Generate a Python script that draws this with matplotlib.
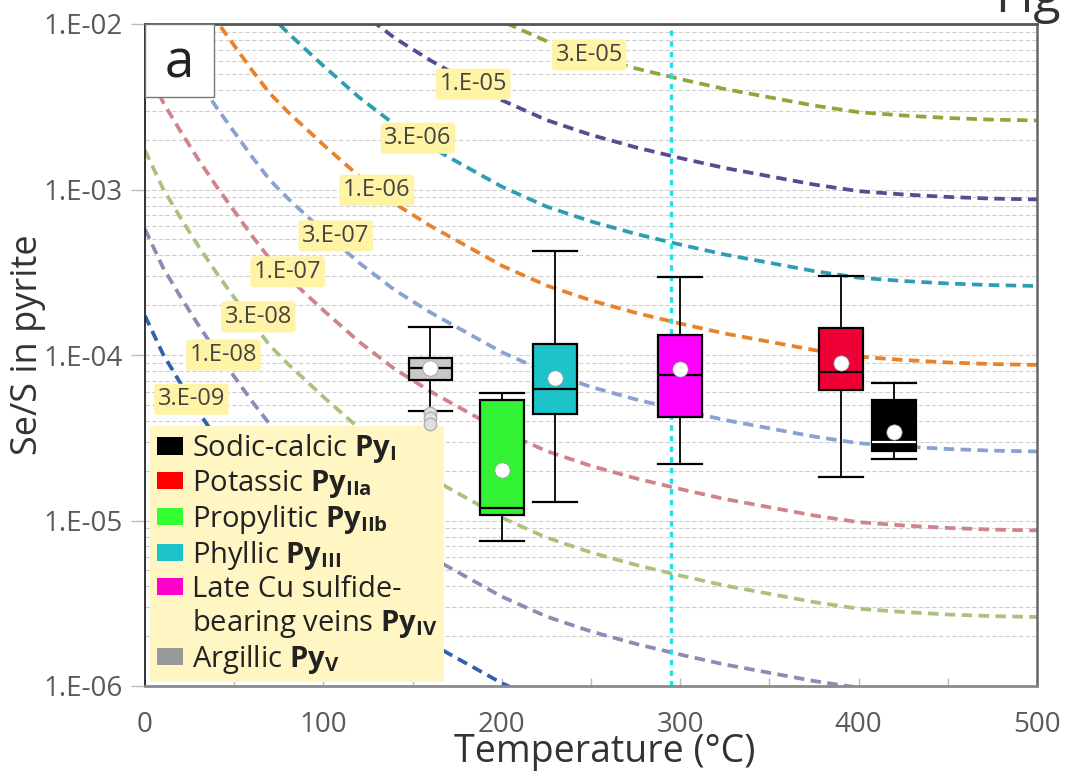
import numpy as np
import matplotlib
matplotlib.use('Agg')
import matplotlib.pyplot as plt
from matplotlib.patches import Patch, Rectangle
from matplotlib.ticker import FixedLocator, FixedFormatter, MultipleLocator, NullFormatter, LogLocator

plt.rcParams['font.family'] = ['Open Sans', 'DejaVu Sans']
plt.rcParams['mathtext.fontset'] = 'custom'
plt.rcParams['mathtext.rm'] = 'Open Sans'
plt.rcParams['mathtext.bf'] = 'Open Sans:bold'
plt.rcParams['mathtext.it'] = 'Open Sans:italic'

# ---------------- data ----------------
# isopleth constants (curve labels) and colours
curve_consts = [3e-9, 1e-8, 3e-8, 1e-7, 3e-7, 1e-6, 3e-6, 1e-5, 3e-5]
curve_labels = ['3.E-09', '1.E-08', '3.E-08', '1.E-07', '3.E-07',
                '1.E-06', '3.E-06', '1.E-05', '3.E-05']
curve_colors = ['#2f62a8', '#8f8ab5', '#a9c27e', '#d0838a', '#88a2d2',
                '#e8832c', '#2e9daf', '#5b4a90', '#8aa93a']
# shared shape of the isopleths: log10(Se/S) - log10(constant)
temp_grid = [0, 10, 20, 30, 40, 50, 60, 70, 80, 90, 100, 120, 140, 160, 180,
             200, 225, 250, 275, 300, 325, 350, 375, 400, 425, 450, 475, 500]
log_offset = [4.76, 4.53, 4.35, 4.18, 4.02, 3.87, 3.72, 3.58, 3.47, 3.37, 3.27,
              3.08, 2.915, 2.78, 2.66, 2.54, 2.42, 2.33, 2.255, 2.19, 2.13,
              2.08, 2.03, 1.99, 1.97, 1.955, 1.945, 1.94]
# positions of the curve labels (T, Se/S)
label_T = [26, 44, 63.5, 80, 107, 130, 153, 184, 249]
label_y = [5.4e-5, 1.0e-4, 1.7e-4, 3.18e-4, 5.24e-4, 9.9e-4, 2.04e-3, 4.33e-3, 6.5e-3]

vline_T = 295

# box plots
box_names = ['Argillic', 'Propylitic', 'Phyllic', 'Late Cu', 'Potassic', 'Sodic-calcic']
box_T = [160, 200, 230, 300, 390, 420]
box_whislo = [4.6e-5, 7.55e-6, 1.3e-5, 2.18e-5, 1.82e-5, 2.34e-5]
box_q1 = [7.1e-5, 1.08e-5, 4.4e-5, 4.24e-5, 6.15e-5, 2.64e-5]
box_med = [8.3e-5, 1.19e-5, 6.2e-5, 7.6e-5, 7.86e-5, 2.99e-5]
box_q3 = [9.6e-5, 5.35e-5, 1.16e-4, 1.32e-4, 1.46e-4, 5.35e-5]
box_whishi = [1.47e-4, 5.87e-5, 4.26e-4, 2.97e-4, 3.0e-4, 6.8e-5]
box_mean = [8.3e-5, 2.02e-5, 7.3e-5, 8.2e-5, 9.0e-5, 3.44e-5]
box_fliers = [[4.45e-5, 4.15e-5, 3.85e-5], [], [], [], [], []]
box_colors = ['#c8c8c8', '#33f233', '#1cc4ca', '#ff00ff', '#ee0036', '#000000']

legend_labels = ['Sodic-calcic $\\mathbf{Py}_{\\mathbf{I}}$',
                 'Potassic $\\mathbf{Py}_{\\mathbf{IIa}}$',
                 'Propylitic $\\mathbf{Py}_{\\mathbf{IIb}}$',
                 'Phyllic $\\mathbf{Py}_{\\mathbf{III}}$',
                 'Late Cu sulfide-',
                 'bearing veins $\\mathbf{Py}_{\\mathbf{IV}}$',
                 'Argillic $\\mathbf{Py}_{\\mathbf{V}}$']
legend_colors = ['#000000', '#ff0000', '#33ff33', '#1cc4ca', '#ff00cc', None, '#999999']

yticks = [1e-6, 1e-5, 1e-4, 1e-3, 1e-2]
ytick_labels = ['1.E-06', '1.E-05', '1.E-04', '1.E-03', '1.E-02']
xticks = [0, 100, 200, 300, 400, 500]

# ---------------- figure ----------------
fig = plt.figure(figsize=(10.69, 7.72), dpi=100)
ax = fig.add_axes([145/1069, 1-686/772, 892/1069, 662/772])
ax.set_yscale('log')
ax.set_xlim(0, 500)
ax.set_ylim(1e-6, 1e-2)

# grid
ax.yaxis.set_minor_locator(LogLocator(base=10, subs=np.arange(2, 10)))
ax.yaxis.set_minor_formatter(NullFormatter())
ax.grid(True, which='both', axis='y', color='#cfcfcf', linestyle=(0, (4, 2)), lw=0.8, zorder=0)
ax.set_axisbelow(True)

# isopleths
T = np.array(temp_grid, dtype=float)
off = np.array(log_offset)
for c, col in zip(curve_consts, curve_colors):
    ax.plot(T, c * 10**off, color=col, lw=2.7, dashes=(2.8, 1.7), zorder=2)

# vertical cyan line
ax.axvline(vline_T, color='#14e4ee', lw=2.4, dashes=(1.6, 1.6), zorder=2.5)

# curve labels
for t, yv, lab in zip(label_T, label_y, curve_labels):
    ax.text(t, yv, lab, fontsize=17, color='#444444', ha='center', va='center', zorder=4,
            bbox=dict(boxstyle='round,pad=0.15', fc='#fff4a6', ec='none'))

# box plots
stats = []
for i in range(len(box_T)):
    stats.append(dict(med=box_med[i], q1=box_q1[i], q3=box_q3[i],
                      whislo=box_whislo[i], whishi=box_whishi[i],
                      mean=box_mean[i], fliers=box_fliers[i]))
bp = ax.bxp(stats, positions=box_T, widths=24.5, capwidths=24.5, patch_artist=True,
            showmeans=True, manage_ticks=False, zorder=5,
            boxprops=dict(edgecolor='black', lw=1.6),
            whiskerprops=dict(color='black', lw=1.3),
            capprops=dict(color='black', lw=1.6),
            medianprops=dict(color='black', lw=1.6),
            meanprops=dict(marker='o', markerfacecolor='white', markeredgecolor='#999999',
                           markeredgewidth=0.5, markersize=11),
            flierprops=dict(marker='o', markerfacecolor='#e0e0e0', markeredgecolor='#b0b0b0',
                            markersize=9))
for patch, col in zip(bp['boxes'], box_colors):
    patch.set_facecolor(col)
bp['medians'][-1].set_color('white')
for fl in bp['fliers']:
    fl.set_zorder(9)

# axes styling
ax.yaxis.set_major_locator(FixedLocator(yticks))
ax.yaxis.set_major_formatter(FixedFormatter(ytick_labels))
ax.xaxis.set_major_locator(FixedLocator(xticks))
ax.xaxis.set_minor_locator(MultipleLocator(50))
ax.tick_params(axis='y', which='major', direction='out', length=10, width=1, color='#bbbbbb',
               labelsize=20, labelcolor='#5a5a5a', pad=6)
ax.tick_params(axis='y', which='minor', length=0)
ax.tick_params(axis='x', which='both', direction='in', length=6, width=1, color='#bbbbbb',
               labelsize=20, labelcolor='#5a5a5a', pad=18)
ax.spines['left'].set_color('#222222'); ax.spines['left'].set_linewidth(1.3)
ax.spines['bottom'].set_color('#8a8a8a'); ax.spines['bottom'].set_linewidth(2)
ax.spines['top'].set_color('#555555'); ax.spines['top'].set_linewidth(2)
ax.spines['right'].set_color('#666666'); ax.spines['right'].set_linewidth(1.8)

# panel label
ax.add_patch(Rectangle((0, 0.89), 0.077, 0.11, transform=ax.transAxes, fc='white',
                       ec='#777777', lw=1, zorder=6))
ax.text(0.0385, 0.94, 'a', transform=ax.transAxes, fontsize=38, color='#222222',
        ha='center', va='center', zorder=7)

# legend
handles = []
for col in legend_colors:
    if col is None:
        handles.append(Patch(facecolor='none', edgecolor='none'))
    else:
        handles.append(Patch(facecolor=col, edgecolor='none'))
leg = ax.legend(handles, legend_labels, loc='lower left', bbox_to_anchor=(0.006, 0.006),
                borderaxespad=0, fontsize=21, frameon=True, fancybox=False,
                facecolor='#fff6c4', edgecolor='none', framealpha=1,
                handlelength=0.9, handleheight=0.55, handletextpad=0.3,
                labelspacing=0.1, borderpad=0.22)
for t in leg.get_texts():
    t.set_color('#222222')
leg.set_zorder(8)

# axis labels
fig.text(28/1069, 1-345/772, 'Se/S in pyrite', rotation=90, fontsize=26, color='#333333',
         ha='center', va='center')
fig.text(605/1069, 1-752/772, 'Temperature (°C)', fontsize=27, color='#333333',
         ha='center', va='center')

# fragment of neighbouring panel title
fig.text(995/1069, 1-12/772, 'Fig', fontsize=36, color='#333333', ha='left', va='baseline')

fig.savefig('out.png', dpi=100)
